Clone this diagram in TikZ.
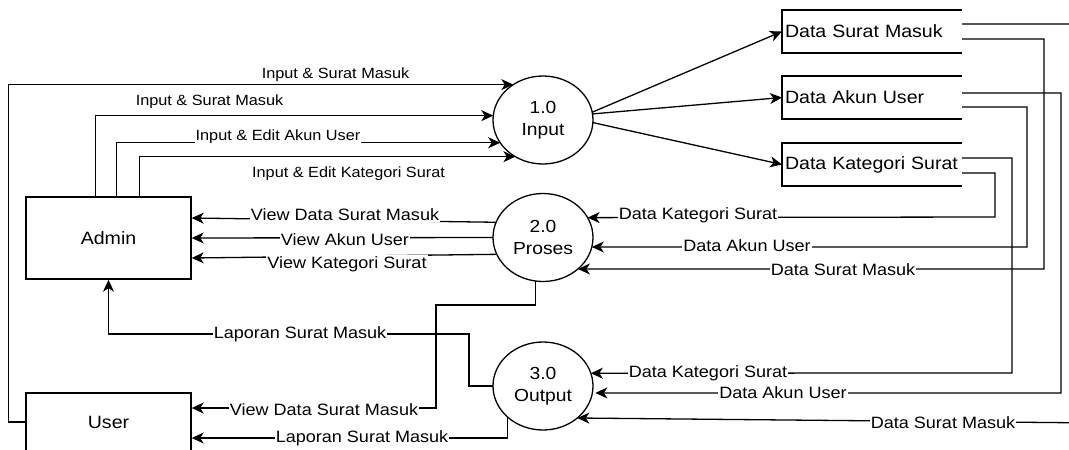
\documentclass[tikz,border=0pt]{standalone}
\usepackage{fontspec}
\setmainfont{Liberation Sans}[FakeStretch=1.1]
\usetikzlibrary{shapes.geometric,arrows.meta,calc}
\begin{document}
\begin{tikzpicture}[x=1pt,y=-1pt,
  conn/.style={line width=1.3pt, draw=black},
  arr/.style={conn, -{Stealth[length=12pt,width=11pt,inset=3.5pt]}},
  ent/.style={draw, line width=1.4pt, minimum width=165pt, minimum height=82pt, font=\fontsize{17.8}{20}\selectfont},
  proc/.style={ellipse, draw, line width=1.3pt, minimum width=100pt, minimum height=88pt, inner sep=0pt, outer sep=0pt, align=center, font=\fontsize{17.5}{22}\selectfont},
  store/.style={rectangle, minimum height=43.5pt, text width=174pt, inner xsep=3pt, outer sep=0pt, align=left, font=\fontsize{17.8}{20}\selectfont},
  storeline/.style={line width=2.2pt},
  lbl/.style={fill=white, inner sep=1.2pt, font=\fontsize{16.4}{18}\selectfont},
  ilbl/.style={inner sep=1pt, font=\fontsize{14.8}{17}\selectfont},
]
\useasboundingbox (0,0) rectangle (1069,450);
\clip (0,0) rectangle (1069,450);

% entities
\node[ent] (admin) at (108.5,238) {Admin};
\node[ent, minimum height=58pt] (user) at (108.5,422) {User};
% processes
\node[proc] (inp) at (543,120) {1.0\\Input};
\node[proc] (pro) at (543,237.5) {2.0\\Proses};
\node[proc] (out) at (543,386) {3.0\\Output};
% data stores
\node[store] (sm) at (872,31.5) {Data Surat Masuk};
\node[store] (au) at (872,97.5) {Data Akun User};
\node[store] (ks) at (872,164.5) {Data Kategori Surat};
\foreach \s in {sm,au,ks}
  \draw[storeline] (\s.north east) -- (\s.north west) -- (\s.south west) -- (\s.south east);

% inputs to 1.0
\draw[arr] (user.west) -- ++(-17,0) |- (inp.130.9);
\draw[arr] ([xshift=70pt]admin.north west) |- (inp.175.4);
\draw[arr] ([xshift=91pt]admin.north west) |- (inp.208.4);
\draw[arr] ([xshift=114pt]admin.north west) |- (inp.233.8);

% 1.0 to stores
\draw[arr] (inp.9) -- (sm.west);
\draw[arr] (inp.7) -- (au.west);
\draw[arr] (inp.357) -- (ks.west);

% 2.0 to admin
\draw[arr] (pro.162.9) -- ([yshift=20pt]admin.east);
\draw[arr] (pro.west) -- (admin.east);
\draw[arr] (pro.200.9) -- ([yshift=-20pt]admin.east);

% 3.0 to admin
\draw[arr] (out.west) -| (469,334) -| (admin.south);

% to user
\draw[arr] (pro.260.4) |- (436,305) |- ([yshift=14pt]user.east);
\draw[arr] (out.221.9) |- ([yshift=-16pt]user.east);

% stores to 2.0 / 3.0
\draw[arr] ([yshift=7.5pt]sm.east) -- (1100,24) -- (1100,423) -- (out.317);
\draw[arr] ([yshift=-7.5pt]sm.east) -| (1044,269) -- (pro.318);
\draw[arr, shorten >=3pt] ([yshift=4.5pt]au.east) -| (1061,393) -- (out.352);
\draw[arr] ([yshift=-9.5pt]au.east) -| (1027,247) -- (pro.349);
\draw[arr] ([yshift=6.5pt]ks.east) -| (1012,373) -- (out.15.2);
\draw[arr] ([yshift=-8.5pt]ks.east) -| (995,217) -- (pro.24.9);

% labels
\node[ilbl] (l1) at (335.5,75) {Input \& Surat Masuk};
\node[ilbl] (l2) at (209.5,102) {Input \& Surat Masuk};
\node[ilbl, fill=white] (l3) at (278,137) {Input \& Edit Akun User};
\node[ilbl] (l4) at (348.5,174) {Input \& Edit Kategori Surat};
\node[lbl] (l5) at (345,215) {View Data Surat Masuk};
\node[lbl] (l6) at (345,240) {View Akun User};
\node[lbl] (l7) at (347,264) {View Kategori Surat};
\node[lbl] (l8) at (300,334) {Laporan Surat Masuk};
\node[lbl] (l9) at (324,410) {View Data Surat Masuk};
\node[lbl] (l10) at (362,438) {Laporan Surat Masuk};
\node[lbl] (l11) at (698,215) {Data Kategori Surat};
\node[lbl] (l12) at (747,246) {Data Akun User};
\node[lbl] (l13) at (843,270) {Data Surat Masuk};
\node[lbl] (l14) at (708,373) {Data Kategori Surat};
\node[lbl] (l15) at (783,393) {Data Akun User};
\node[lbl] (l16) at (943,423) {Data Surat Masuk};
\end{tikzpicture}
\end{document}
